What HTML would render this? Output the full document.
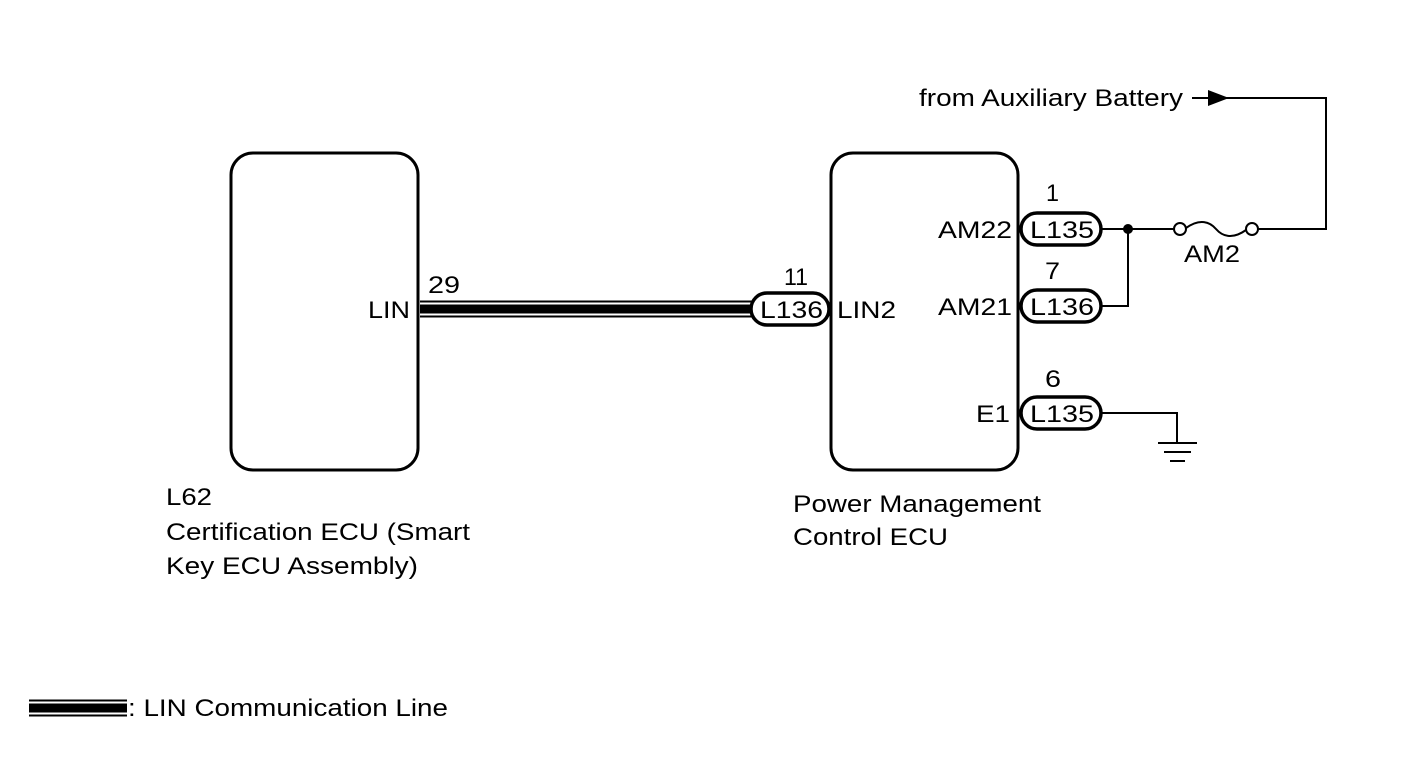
<!DOCTYPE html>
<html><head><style>
body{margin:0;background:#fff}
svg text{font-family:"Liberation Sans",sans-serif;font-size:24px;fill:#000}
</style></head><body>
<svg width="1424" height="759" viewBox="0 0 1424 759" xmlns="http://www.w3.org/2000/svg">
<g fill="none" stroke="#000" stroke-width="3">
<rect x="231" y="153" width="187" height="317" rx="22"/>
<rect x="831" y="153" width="187" height="317" rx="22"/>
</g>
<g stroke="#000">
<line x1="420" y1="301.5" x2="755" y2="301.5" stroke-width="2"/>
<line x1="420" y1="309" x2="755" y2="309" stroke-width="9"/>
<line x1="420" y1="316.5" x2="755" y2="316.5" stroke-width="2"/>
<line x1="29" y1="700.5" x2="127" y2="700.5" stroke-width="2"/>
<line x1="29" y1="708" x2="127" y2="708" stroke-width="9"/>
<line x1="29" y1="715.5" x2="127" y2="715.5" stroke-width="2"/>
</g>
<g fill="#fff" stroke="#000" stroke-width="3.5">
<rect x="751" y="293" width="78" height="32" rx="16"/>
<rect x="1021" y="213" width="80" height="32" rx="16"/>
<rect x="1021" y="290" width="80" height="32" rx="16"/>
<rect x="1021" y="397" width="80" height="32" rx="16"/>
</g>
<g fill="none" stroke="#000" stroke-width="2">
<path d="M1101 229 H1174"/>
<path d="M1128 229 V306 H1101"/>
<circle cx="1180" cy="229" r="6"/>
<circle cx="1252" cy="229" r="6"/>
<path d="M1186 228 C1200 218 1210 222 1216 229 C1222 236 1232 240 1246 230"/>
<path d="M1258 229 H1326 V98 H1220"/>
<path d="M1192 98 H1212"/>
<path d="M1101 413 H1177 V442"/>
<path d="M1158 443 H1197 M1164 452 H1191 M1170 461 H1185"/>
</g>
<circle cx="1128" cy="229" r="5" fill="#000"/>
<polygon points="1208,90 1229,98 1208,106" fill="#000"/>
<g>
<text x="919" y="106" textLength="264" lengthAdjust="spacingAndGlyphs">from Auxiliary Battery</text>
<text x="1046" y="201" textLength="13" lengthAdjust="spacingAndGlyphs">1</text>
<text x="1045" y="279" textLength="15" lengthAdjust="spacingAndGlyphs">7</text>
<text x="1045" y="387" textLength="16" lengthAdjust="spacingAndGlyphs">6</text>
<text x="1030" y="238" textLength="64" lengthAdjust="spacingAndGlyphs">L135</text>
<text x="1030" y="315" textLength="64" lengthAdjust="spacingAndGlyphs">L136</text>
<text x="1030" y="422" textLength="64" lengthAdjust="spacingAndGlyphs">L135</text>
<text x="760" y="318" textLength="63" lengthAdjust="spacingAndGlyphs">L136</text>
<text x="938" y="238" textLength="74" lengthAdjust="spacingAndGlyphs">AM22</text>
<text x="938" y="315" textLength="74" lengthAdjust="spacingAndGlyphs">AM21</text>
<text x="976" y="422" textLength="34" lengthAdjust="spacingAndGlyphs">E1</text>
<text x="837" y="318" textLength="59" lengthAdjust="spacingAndGlyphs">LIN2</text>
<text x="368" y="318" textLength="42" lengthAdjust="spacingAndGlyphs">LIN</text>
<text x="428" y="293" textLength="32" lengthAdjust="spacingAndGlyphs">29</text>
<text x="784" y="285" textLength="24" lengthAdjust="spacingAndGlyphs">11</text>
<text x="1184" y="262" textLength="56" lengthAdjust="spacingAndGlyphs">AM2</text>
<text x="166" y="505" textLength="46" lengthAdjust="spacingAndGlyphs">L62</text>
<text x="166" y="540" textLength="304" lengthAdjust="spacingAndGlyphs">Certification ECU (Smart</text>
<text x="166" y="574" textLength="252" lengthAdjust="spacingAndGlyphs">Key ECU Assembly)</text>
<text x="793" y="512" textLength="248" lengthAdjust="spacingAndGlyphs">Power Management</text>
<text x="793" y="545" textLength="155" lengthAdjust="spacingAndGlyphs">Control ECU</text>
<text x="128" y="716" textLength="320" lengthAdjust="spacingAndGlyphs">: LIN Communication Line</text>
</g>
</svg>
</body></html>
